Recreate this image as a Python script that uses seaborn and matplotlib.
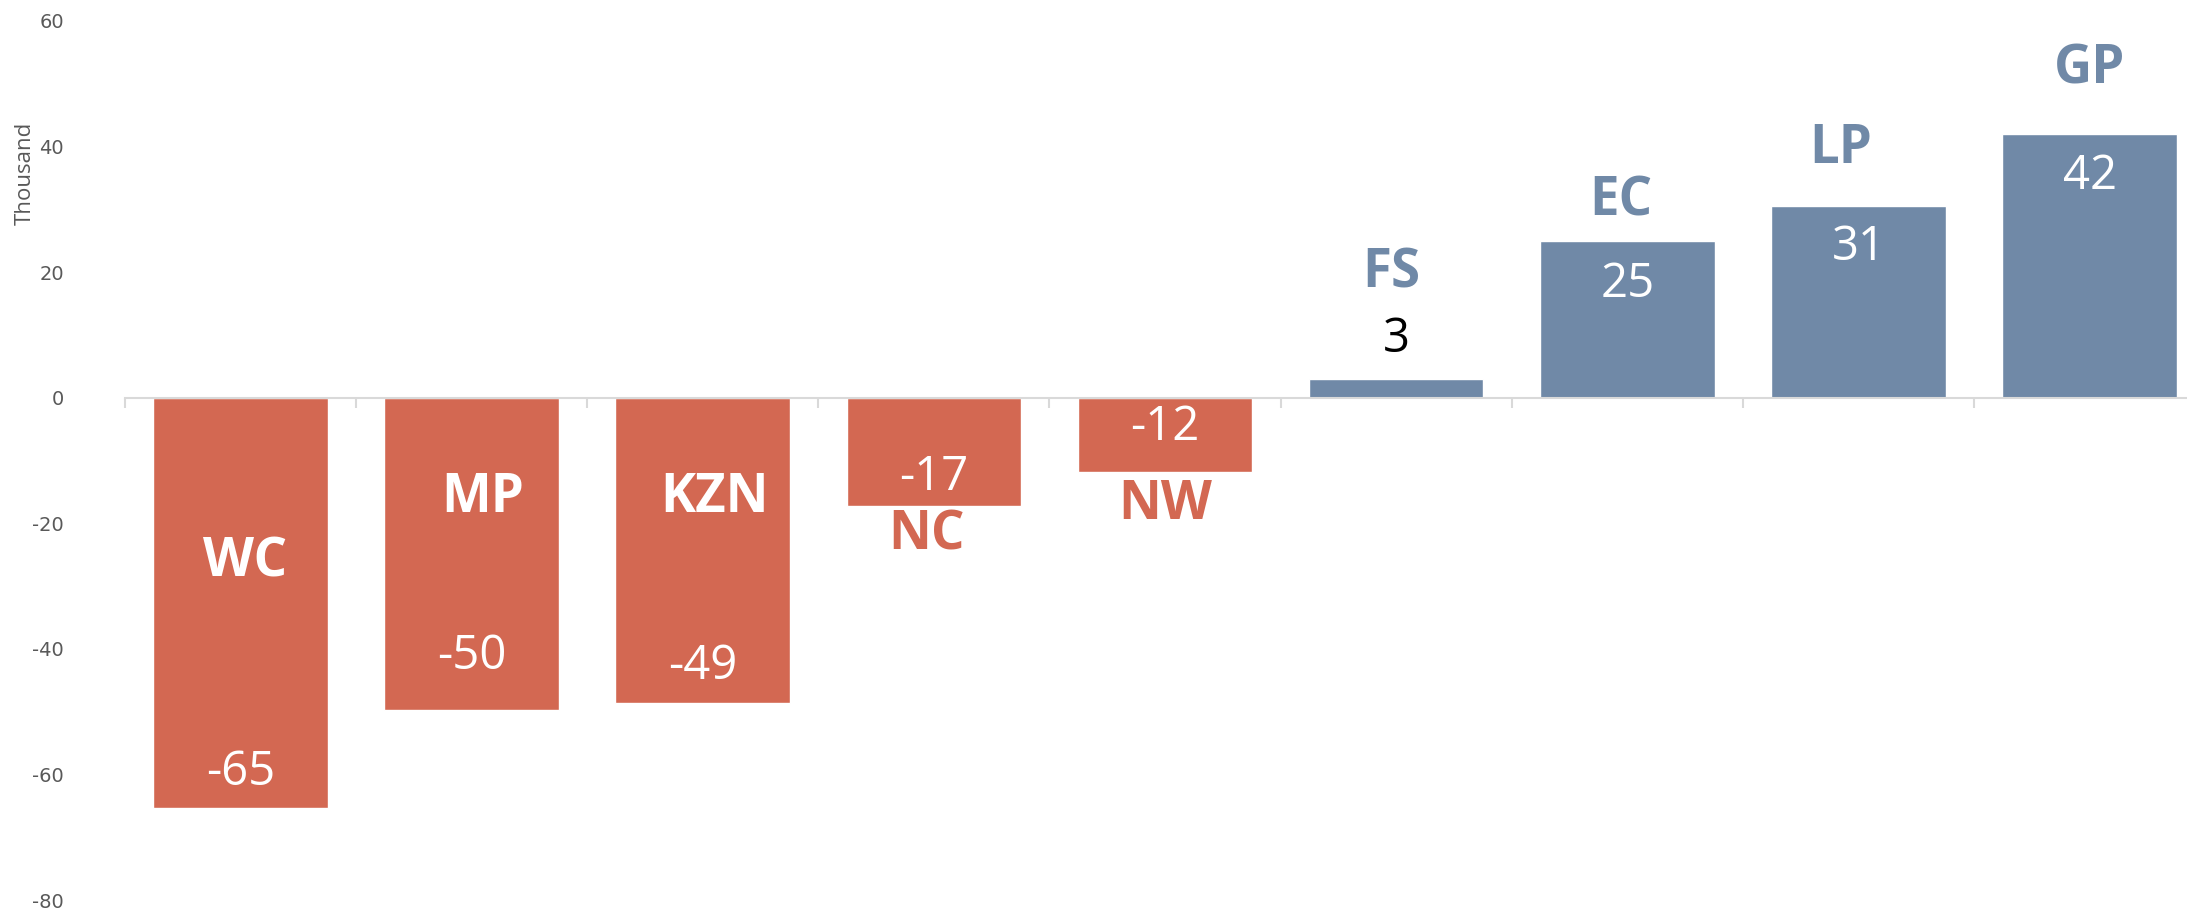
import numpy as np
import pandas as pd
import seaborn as sns
import matplotlib.pyplot as plt

# Dados (milhares)
provincias = ['WC', 'MP', 'KZN', 'NC', 'NW', 'FS', 'EC', 'LP', 'GP']
valores = [-65.3, -49.8, -48.6, -17.2, -11.8, 3.0, 24.9, 30.6, 42.0]
rotulos_valor = ['-65', '-50', '-49', '-17', '-12', '3', '25', '31', '42']

# Posições dos rótulos (em unidades do eixo y)
y_nome = [-26.2, -16.0, -16.0, -22.0, -17.1, 19.8, 31.3, 39.6, 52.2]
dx_nome = [0.02, 0.05, 0.05, -0.03, 0.0, -0.02, -0.03, -0.075, 0.0]
y_valor = [-59.6, -41.1, -42.7, -12.7, -4.7, 9.3, 18.0, 24.0, 35.3]

vermelho = '#D36852'
azul = '#7089A7'
cores = [vermelho if v < 0 else azul for v in valores]
cor_nome = ['white', 'white', 'white', vermelho, vermelho, azul, azul, azul, azul]
cor_valor = ['white'] * 5 + ['black'] + ['white'] * 3

df = pd.DataFrame({'provincia': provincias, 'valor': valores})

sns.set_style('white')
plt.rcParams['font.family'] = ['Open Sans', 'DejaVu Sans']
plt.rcParams['axes.unicode_minus'] = False

fig = plt.figure(figsize=(21.87, 9.11), dpi=100)
ax = fig.add_axes([0.0571, 0.012, 0.9512, 0.965])

sns.barplot(data=df, x='provincia', y='valor', hue='provincia', palette=cores,
            width=0.755, legend=False, saturation=1, ax=ax)

ax.set_ylim(-80, 60)
ax.set_xlim(-0.5, len(provincias) - 0.5)
ax.set_yticks(np.arange(-80, 61, 20))
ax.tick_params(axis='y', left=False, length=0, pad=44, labelsize=14, labelcolor='#595959')
for t in ax.get_yticklabels():
    t.set_fontfamily('DejaVu Sans')

# linha do zero com marcas entre categorias
for lado in ['left', 'right', 'top']:
    ax.spines[lado].set_visible(False)
ax.spines['bottom'].set_position(('data', 0))
ax.spines['bottom'].set_color('#d9d9d9')
ax.spines['bottom'].set_linewidth(1.5)
ax.set_xticks(np.arange(len(provincias)) - 0.5)
ax.set_xticklabels([])
ax.tick_params(axis='x', bottom=True, direction='out', length=7, width=1.5, color='#d9d9d9')
ax.set_xlabel('')
ax.set_ylabel('')

fig.text(0.0115, 0.81, 'Thousand', rotation=90, ha='center', va='center',
         fontsize=16, color='#595959')

for i, p in enumerate(provincias):
    ax.text(i + dx_nome[i], y_nome[i], p, ha='center', va='center',
            fontsize=38, fontweight='bold', color=cor_nome[i])
    ax.text(i, y_valor[i], rotulos_valor[i], ha='center', va='center',
            fontsize=34, fontweight='normal', color=cor_valor[i])

fig.savefig('out.png', dpi=100)
